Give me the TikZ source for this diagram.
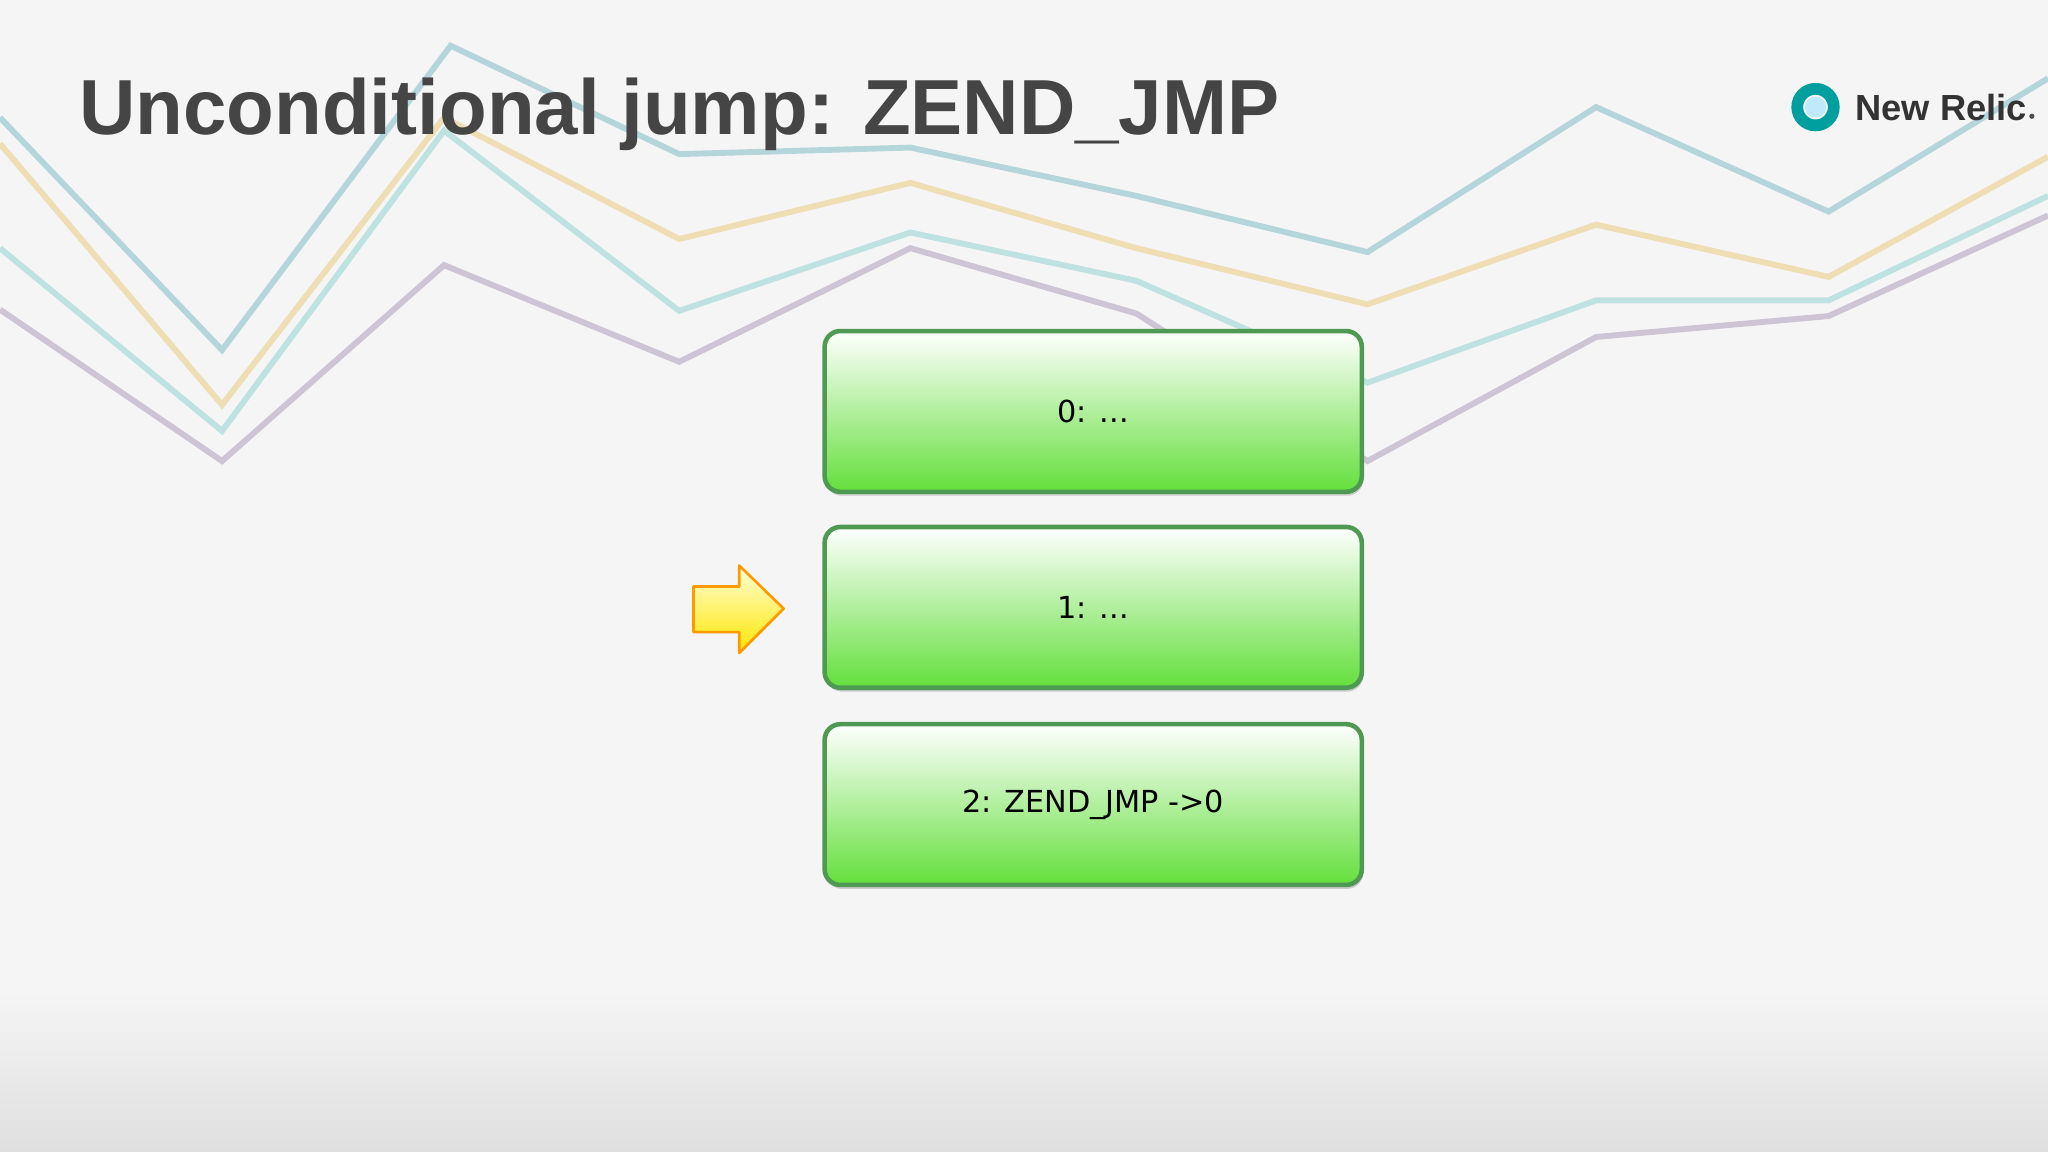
\documentclass[tikz,border=0pt]{standalone}
\usepackage{fontspec}
\setmainfont{Liberation Sans}
\newfontfamily\boxfont{DejaVu Sans}
\usetikzlibrary{shadows}
\definecolor{lblue}{HTML}{A9D0D6}
\definecolor{lyel}{HTML}{EED9A8}
\definecolor{lteal}{HTML}{B4DFDC}
\definecolor{lpurp}{HTML}{C7BCCF}
\definecolor{gborder}{HTML}{4E9A52}
\definecolor{gfill}{HTML}{63DF3B}
\tikzset{
 bg/.style={line width=0.045cm, opacity=0.85},
 instr/.style={draw=gborder, line width=0.035cm, rounded corners=0.12cm, minimum width=4.11cm, minimum height=1.23cm, top color=white, bottom color=gfill, font=\boxfont\fontsize{6.6}{8}\selectfont, drop shadow={shadow xshift=0.01cm, shadow yshift=-0.03cm, opacity=0.35}}
}
\begin{document}
\begin{tikzpicture}[x=0.01cm,y=-0.01cm]
\useasboundingbox (0,0) rectangle (1568,882);
\fill[gray!8] (0,0) rectangle (1568,882);
\shade[top color=gray!8, bottom color=gray!25] (0,760) rectangle (1568,882);
\draw[bg,lblue] (0,90) -- (170,268) -- (345,35) -- (520,118) -- (697,113) -- (870,150) -- (1047,193) -- (1222,82) -- (1400,162) -- (1568,60);
\draw[bg,lyel] (0,110) -- (170,310) -- (340,90) -- (520,183) -- (697,140) -- (870,190) -- (1047,233) -- (1222,172) -- (1400,212) -- (1568,120);
\draw[bg,lteal] (0,190) -- (170,330) -- (340,100) -- (520,238) -- (697,178) -- (870,215) -- (1047,293) -- (1222,230) -- (1400,230) -- (1568,150);
\draw[bg,lpurp] (0,237) -- (170,353) -- (340,203) -- (520,277) -- (697,190) -- (870,240) -- (1047,353) -- (1222,258) -- (1400,242) -- (1568,165);
\node[anchor=base west, text=black!73, font=\fontsize{17}{20}\selectfont\bfseries, inner sep=0] (title) at (60,103) {Unconditional jump: ZEND\_JMP};
\draw[line width=0.09cm, draw=teal!75!cyan] (1390,82) circle (14);
\fill[cyan!25] (1390,82) circle (8);
\node[anchor=base west, inner sep=0, font=\fontsize{7.9}{10}\selectfont\bfseries, text=black!80] (logo) at (1420,92) {New Relic};
\fill[black!70] (logo.base east) ++(3,-3) circle (2);
\node[instr] (b0) at (837,315) {0: ...};
\node[instr] (b1) at (837,465) {1: ...};
\node[instr] (b2) at (837,616) {2: ZEND\_JMP ->0};
\coordinate (arr) at (565,466);
\draw[draw=orange!80!yellow, line width=0.02cm, top color=yellow!15, bottom color=yellow!80!orange, line join=round]
 (531,449) -- (566,449) -- (566,433) -- (600,466) -- (566,500) -- (566,484) -- (531,484) -- cycle;
\end{tikzpicture}
\end{document}
